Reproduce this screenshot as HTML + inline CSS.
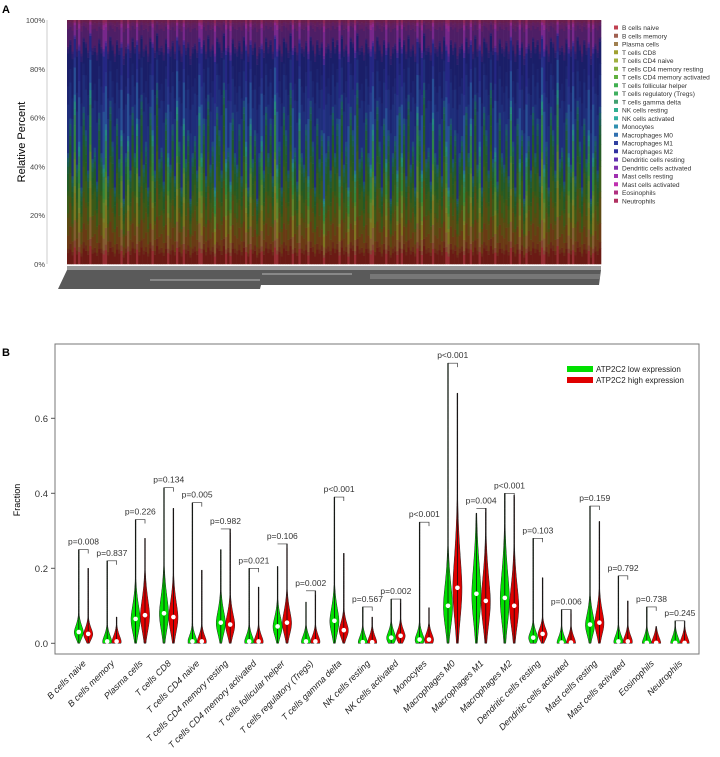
<!DOCTYPE html>
<html><head><meta charset="utf-8">
<style>
body{margin:0;background:#fff;font-family:"Liberation Sans",Arial,sans-serif;}
svg text{font-family:"Liberation Sans",Arial,sans-serif;}
</style></head>
<body>
<svg id="chart" width="720" height="752" viewBox="0 0 720 752" xmlns="http://www.w3.org/2000/svg">
<text x="2" y="13" font-size="11" font-weight="bold">A</text>
<text x="2" y="356" font-size="11" font-weight="bold">B</text>
<g id="topA"></g>
<g id="botB"></g>
</svg>
<script>
const NS="http://www.w3.org/2000/svg";
const cellTypes=["B cells naive","B cells memory","Plasma cells","T cells CD8","T cells CD4 naive","T cells CD4 memory resting","T cells CD4 memory activated","T cells follicular helper","T cells regulatory (Tregs)","T cells gamma delta","NK cells resting","NK cells activated","Monocytes","Macrophages M0","Macrophages M1","Macrophages M2","Dendritic cells resting","Dendritic cells activated","Mast cells resting","Mast cells activated","Eosinophils","Neutrophils"];
const legendColors=["#c04050","#a06050","#a08050","#a0a030","#a0b040","#80b040","#60b040","#40b050","#40b060","#40a070","#30b090","#30b0a0","#3090b0","#3070b0","#3040a0","#3030a0","#6030b0","#8030b0","#a030b0","#c030b0","#b03080","#b03060"];
const barColors=["#6a1a14","#6a2a18","#6a3a14","#5a4a12","#4a5212","#3a5a18","#2e5a1c","#245a24","#1e5a2c","#1e5a3a","#1a5a50","#1a5a60","#1e4a7a","#1e2e7a","#1c2470","#1a1e68","#2c1e6c","#3a1e6c","#4e1e66","#5e1e62","#62205a","#681e4c"];
const meanFrac=[.05,.02,.06,.08,.02,.08,.02,.05,.03,.03,.02,.02,.02,.22,.08,.15,.02,.01,.08,.02,.01,.01];
const lymphShift=[1.0,1.3,0.8,1.5,0.9,1.1,0.7,1.4,1.2,0.85,1.6,0.95,1.05,0.75,1.35,1.0,0.9,1.25,0.8,1.45,1.1,0.7,1.3,0.95,1.2,0.6,1.0,1.15,0.85,1.4];
const yTicksA=[0,20,40,60,80,100];

function el(tag,attrs,parent){const e=document.createElementNS(NS,tag);for(const k in attrs)e.setAttribute(k,attrs[k]);parent.appendChild(e);return e;}
function mix(a,b){const pa=parseInt(a.slice(1),16),pb=parseInt(b.slice(1),16);const c=[16,8,0].map(s=>Math.round((((pa>>s)&255)+((pb>>s)&255))/2));return "rgb("+c.join(",")+")";}

// ---------- Panel A ----------
(function(){
const g=document.getElementById('topA');
const x0=67,x1=601,yTop=20,yBot=264;
const yA=v=>yBot-(v/100)*(yBot-yTop);
el('line',{x1:47,y1:yA(0),x2:47,y2:yA(100),stroke:"#ccc","stroke-width":1},g);
yTicksA.forEach(t=>{
 const tx=el('text',{x:45,y:yA(t)+3,"font-size":7.5,"text-anchor":"end",fill:"#444"},g);tx.textContent=t+"%";
 
 
});
const yl=el('text',{x:0,y:0,"font-size":11,"text-anchor":"middle",transform:`translate(25,142) rotate(-90)`},g);
yl.textContent="Relative Percent";


const N=240,bw=(x1-x0)/N;
for(let i=0;i<N;i++){
 const s=lymphShift[i%lymphShift.length];
 const w=meanFrac.map((f,k)=> (k<=12? f*s : f*(2-s)*0.9+f*0.1));
 const tot=w.reduce((a,b)=>a+b,0);
 let cum=0;
 const bright=(i%7===3)||(i%11===5);
 w.forEach((f,k)=>{
  const v=f/tot*100;
  const r=el('rect',{x:x0+i*bw,y:yA(cum+v),width:bw+0.3,height:(v/100)*(yBot-yTop)+0.3,fill:bright?mix(legendColors[k],barColors[k]):barColors[k]},g);
  
  
  cum+=v;
 });
}
el('rect',{x:67,y:266,width:534,height:4,fill:"#9a9a9a"},g);
el('polygon',{points:"67,270 601,270 599,285 261,285 260,289 58,289",fill:"#5a5a5a"},g);
el('rect',{x:150,y:279,width:110,height:2,fill:"#888"},g);
el('rect',{x:262,y:273,width:90,height:2,fill:"#888"},g);
el('rect',{x:370,y:274,width:230,height:5,fill:"#777"},g);
const lg=el('g',{},g);


cellTypes.forEach((c,k)=>{
 const y=28+k*8.25;
 el('rect',{x:614,y:y-2.5,width:4,height:4,fill:legendColors[k]},lg);
 const t=el('text',{x:622,y:y+2.2,"font-size":6.6,fill:"#333"},lg);t.textContent=c;
 
 
});
})();

// ---------- Panel B ----------
const lowMax=[.25,.22,.33,.415,.375,.25,.20,.205,.11,.39,.097,.118,.323,.747,.347,.40,.28,.09,.366,.18,.097,.06];
const highMax=[.20,.07,.28,.36,.195,.305,.15,.265,.14,.24,.07,.118,.095,.667,.36,.395,.175,.09,.325,.113,.045,.06];
const lowMed=[.03,.005,.065,.08,.005,.055,.005,.045,.005,.06,.003,.015,.01,.10,.132,.121,.015,.002,.05,.005,.001,.001];
const highMed=[.025,.005,.075,.07,.005,.05,.005,.055,.005,.035,.003,.02,.01,.148,.113,.10,.025,.002,.055,.005,.001,.001];
const pLabels=["p=0.008","p=0.837","p=0.226","p=0.134","p=0.005","p=0.982","p=0.021","p=0.106","p=0.002","p<0.001","p=0.567","p=0.002","p<0.001","p<0.001","p=0.004","p<0.001","p=0.103","p=0.006","p=0.159","p=0.792","p=0.738","p=0.245"];
const yTicksB=[0,0.2,0.4,0.6];
(function(){
const g=document.getElementById('botB');
const L=55,R=699,T=344,B=654;
const yS=v=>643.3-v*375;
const xS=i=>83.5+i*28.4;
el('rect',{x:L,y:T,width:R-L,height:B-T,fill:"none",stroke:"#777","stroke-width":1},g);
yTicksB.forEach(t=>{
 el('line',{x1:L-4,y1:yS(t),x2:L,y2:yS(t),stroke:"#555"},g);
 const tx=el('text',{x:L-7,y:yS(t)+3.5,"font-size":9.5,"text-anchor":"end",fill:"#333"},g);tx.textContent=t.toFixed(1);
 
 
});
const yt=el('text',{x:0,y:0,"font-size":9,"text-anchor":"middle",transform:"translate(20,500) rotate(-90)"},g);
yt.textContent="Fraction";


function violin(cx,max,med,color,name){
 const sig=Math.max(0.022,med*0.8);
 const pts=[];const n=40;
 for(let j=0;j<=n;j++){
  const v=max*j/n;
  const z=(v-med)/sig;
  let hw=v<med?4.6*Math.exp(-z*z):4.6*Math.exp(-Math.pow(z,1.6)*0.8);
  hw=Math.max(hw,0.4);
  pts.push([v,hw]);
 }
 let d=`M${cx-pts[0][1]},${yS(0)}`;
 pts.forEach(p=>d+=` L${cx-p[1]},${yS(p[0])}`);
 for(let j=pts.length-1;j>=0;j--)d+=` L${cx+pts[j][1]},${yS(pts[j][0])}`;
 d+="Z";
 const p=el('path',{d:d,fill:color,stroke:"#222","stroke-width":0.5},g);
 
 
 el('line',{x1:cx,y1:yS(0),x2:cx,y2:yS(max),stroke:"#111","stroke-width":0.8},g);
 el('circle',{cx:cx,cy:yS(med),r:2.3,fill:"#fff"},g);
}
cellTypes.forEach((c,i)=>{
 const gx=xS(i)-4.7,rx=xS(i)+4.7;
 violin(gx,lowMax[i],lowMed[i],"#00e000","violin-low-"+i);
 violin(rx,highMax[i],highMed[i],"#e00000","violin-high-"+i);
 const top=Math.max(lowMax[i],highMax[i]);
 el('path',{d:`M${gx},${yS(top)} L${rx},${yS(top)} L${rx},${yS(top)+4}`,fill:"none",stroke:"#333","stroke-width":0.7},g);
 const pt=el('text',{x:xS(i),y:yS(top)-5,"font-size":8.5,"text-anchor":"middle",fill:"#333"},g);pt.textContent=pLabels[i];
 
 
 const xl=el('text',{x:0,y:0,"font-size":9,"font-style":"italic","text-anchor":"end",fill:"#222",transform:`translate(${xS(i)+3},664) rotate(-45)`},g);
 xl.textContent=c;
 
 
});
const lg=el('g',{},g);


el('rect',{x:567,y:366,width:26,height:6,fill:"#00e000"},lg);
el('rect',{x:567,y:377,width:26,height:6,fill:"#e00000"},lg);
const l1=el('text',{x:596,y:372,"font-size":8,fill:"#222"},lg);l1.textContent="ATP2C2 low expression";


const l2=el('text',{x:596,y:383,"font-size":8,fill:"#222"},lg);l2.textContent="ATP2C2 high expression";


})();
</script>
</body></html>
